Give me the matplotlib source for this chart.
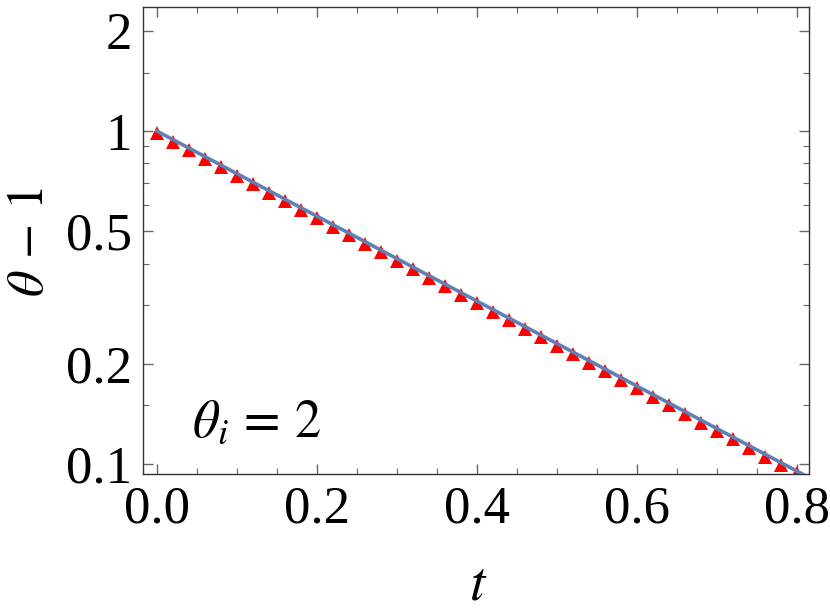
import matplotlib
matplotlib.use("Agg")
import matplotlib.pyplot as plt
from matplotlib.ticker import FixedLocator, FixedFormatter

plt.rcParams['font.family'] = ['Liberation Serif', 'DejaVu Serif']
plt.rcParams['mathtext.fontset'] = 'stix'

# data: simulation points (red triangles)
t_points = [0.00, 0.02, 0.04, 0.06, 0.08, 0.10, 0.12, 0.14, 0.16, 0.18,
            0.20, 0.22, 0.24, 0.26, 0.28, 0.30, 0.32, 0.34, 0.36, 0.38,
            0.40, 0.42, 0.44, 0.46, 0.48, 0.50, 0.52, 0.54, 0.56, 0.58,
            0.60, 0.62, 0.64, 0.66, 0.68, 0.70, 0.72, 0.74, 0.76, 0.78, 0.80]
theta_points = [0.985, 0.929, 0.876, 0.826, 0.779, 0.734, 0.692, 0.653, 0.615, 0.580,
                0.547, 0.516, 0.486, 0.459, 0.432, 0.408, 0.384, 0.362, 0.342, 0.322,
                0.304, 0.287, 0.270, 0.255, 0.240, 0.226, 0.214, 0.201, 0.190, 0.179,
                0.169, 0.159, 0.150, 0.141, 0.133, 0.126, 0.119, 0.112, 0.105, 0.0995, 0.0938]

# data: theoretical line (straight on log scale)
t_line = [0.0, 0.2, 0.4, 0.6, 0.82]
theta_line = [1.0, 0.555, 0.3085, 0.1714, 0.0897]

x_ticks = [0.0, 0.2, 0.4, 0.6, 0.8]
x_tick_labels = ["0.0", "0.2", "0.4", "0.6", "0.8"]
x_minor = [0.05, 0.10, 0.15, 0.25, 0.30, 0.35, 0.45, 0.50, 0.55, 0.65, 0.70, 0.75]
y_ticks = [0.1, 0.2, 0.5, 1, 2]
y_tick_labels = ["0.1", "0.2", "0.5", "1", "2"]
y_minor = [0.15, 0.3, 0.4, 0.6, 0.7, 0.8, 0.9, 1.5]

W, H = 830, 613
fig = plt.figure(figsize=(W/100, H/100), dpi=100)
ax = fig.add_axes([143/W, 1-474/H, (809-143)/W, (474-7)/H])

ax.plot(t_points, theta_points, linestyle='none', marker='^', color='#ff0000',
        markersize=9.5, markeredgewidth=0, zorder=2)
ax.plot(t_line, theta_line, color='#5e81b5', linewidth=2.6, zorder=3)

ax.set_yscale('log')
ax.set_xlim(-0.0175, 0.815)
ax.set_ylim(0.0933, 2.36)

ax.xaxis.set_major_locator(FixedLocator(x_ticks))
ax.xaxis.set_major_formatter(FixedFormatter(x_tick_labels))
ax.xaxis.set_minor_locator(FixedLocator(x_minor))
ax.yaxis.set_major_locator(FixedLocator(y_ticks))
ax.yaxis.set_major_formatter(FixedFormatter(y_tick_labels))
ax.yaxis.set_minor_locator(FixedLocator(y_minor))
ax.yaxis.set_minor_formatter(FixedFormatter([]))

ax.tick_params(which='both', direction='in', top=True, right=True, color='#666666')
ax.tick_params(which='major', length=7, width=1.0, labelsize=38, pad=8)
ax.tick_params(which='minor', length=4, width=0.8)
for s in ax.spines.values():
    s.set_color('#333333')
    s.set_linewidth(1.0)

fig.text(478/W, 1-585/H, r'$t$', fontsize=40, ha='center', va='center')
fig.text(31/W, 1-242/H, r'$\theta\,-\,1$', fontsize=37, ha='center', va='center',
         rotation=90)
ax.text(0.074, 0.079, r'$\theta_i\,=\,2$', transform=ax.transAxes, fontsize=38)

fig.savefig('out.png', dpi=100)
